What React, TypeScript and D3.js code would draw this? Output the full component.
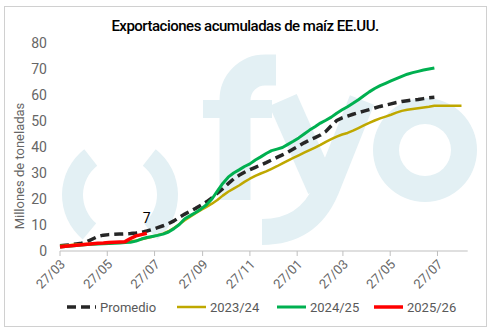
import React from "react";
import * as d3 from "d3";

// ---- data ----
const START = "2022-03-27"; // weekly series start (27/03)
const promedio = [
  2.0, 2.2, 2.4, 2.7, 3.0, 3.6, 4.6, 5.6, 6.1, 6.3,
  6.4, 6.5, 6.6, 6.7, 6.9, 7.2, 7.7, 8.3, 9.0, 9.7,
  10.5, 11.6, 13.0, 14.2, 15.3, 16.4, 17.6, 18.9, 20.4, 22.2,
  24.0, 25.9, 27.7, 29.1, 30.3, 31.3, 32.2, 33.1, 34.0, 35.0,
  36.0, 37.0, 38.0, 39.2, 40.4, 41.6, 42.7, 43.6, 44.6, 46.0,
  48.2, 50.2, 51.2, 51.9, 52.6, 53.2, 53.8, 54.4, 55.0, 55.6,
  56.1, 56.6, 57.1, 57.5, 57.8, 58.1, 58.3, 58.6, 58.9, 59.1,
];
const s2023 = [
  2.0, 2.1, 2.3, 2.5, 2.6, 2.7, 2.8, 2.9, 3.0, 3.1,
  3.2, 3.3, 3.5, 3.7, 4.0, 4.5, 5.0, 5.5, 6.1, 6.7,
  7.6, 8.8, 10.3, 11.8, 13.2, 14.5, 15.8, 17.0, 18.2, 19.6,
  21.3, 22.8, 24.0, 25.2, 26.6, 27.8, 28.9, 29.8, 30.6, 31.6,
  32.6, 33.7, 34.8, 35.8, 36.8, 37.8, 38.8, 39.8, 40.8, 42.0,
  43.0, 44.0, 44.8, 45.4, 46.3, 47.3, 48.3, 49.3, 50.2, 51.0,
  51.7, 52.4, 53.2, 53.9, 54.3, 54.6, 54.9, 55.2, 55.5, 55.9,
  55.9, 55.9, 55.9, 55.9, 55.9,
];
const s2024 = [
  1.5, 1.7, 1.9, 2.1, 2.3, 2.5, 2.6, 2.7, 2.8, 2.9,
  3.0, 3.1, 3.3, 3.4, 3.8, 4.6, 5.2, 5.6, 6.0, 6.5,
  7.3, 8.6, 10.2, 12.4, 13.6, 14.8, 16.2, 17.8, 20.0, 23.0,
  26.0, 28.4, 30.0, 31.2, 32.5, 33.5, 35.0, 36.2, 37.5, 38.6,
  39.2, 39.8, 41.0, 42.2, 43.5, 45.0, 46.5, 47.8, 49.2, 50.3,
  51.5, 53.0, 54.3, 55.5, 56.8, 58.2, 59.7, 61.2, 62.5, 63.6,
  64.5, 65.4, 66.3, 67.2, 68.0, 68.6, 69.1, 69.6, 70.0, 70.4,
];
const s2025 = [1.5, 1.8, 2.0, 2.2, 2.4, 2.6, 2.8, 3.0, 3.1, 3.3, 3.4, 3.5, 3.6, 4.8, 5.8, 6.3, 6.8];

const seriesNames = ["Promedio", "2023/24", "2024/25", "2025/26"];
const yTicks = [0, 10, 20, 30, 40, 50, 60, 70, 80];
const xTickDates = [
  "2022-03-27", "2022-05-27", "2022-07-27", "2022-09-27", "2022-11-27",
  "2023-01-27", "2023-03-27", "2023-05-27", "2023-07-27",
];
const X_END = "2023-09-04";
const title = "Exportaciones acumuladas de maíz EE.UU.";
const yTitle = "Millones de toneladas";

// ---- styles ----
const styles = [
  { color: "#262626", width: 3.5, dash: "9 5" },
  { color: "#BFA800", width: 2.5, dash: null },
  { color: "#00B050", width: 3, dash: null },
  { color: "#FF0000", width: 3.5, dash: null },
];
const legendX = [67, 177, 277, 374];
const FONT = "Roboto, 'Noto Sans', sans-serif";
const WM = "#E3F0F4";

export default function App() {
  const W = 491, H = 332;
  const parse = d3.timeParse("%Y-%m-%d");
  const start = parse(START) as Date;
  const x = d3.scaleTime().domain([start, parse(X_END) as Date]).range([60, 467.7]);
  const y = d3.scaleLinear().domain([0, 80]).range([251, 43]);
  const all = [promedio, s2023, s2024, s2025].map((vals) =>
    vals.map((v, i) => ({ d: d3.timeDay.offset(start, 7 * i), v }))
  );
  const line = d3.line<{ d: Date; v: number }>().x((p) => x(p.d)).y((p) => y(p.v));
  const fmt = d3.timeFormat("%d/%m");
  const ringArc = d3.arc<any>();
  const last = all[3][all[3].length - 1];

  return (
    <svg width={W} height={H} style={{ position: "absolute", left: 0, top: 0, background: "#fff" }} fontFamily={FONT}>
      <rect x={0} y={0} width={W} height={H} fill="#fff" />
      <rect x={4.5} y={6.5} width={482} height={320} fill="#fff" stroke="#D0D0D0" strokeWidth={1} />

      {/* watermark logo */}
      <g fill={WM} stroke="none">
        <path transform="translate(120,195)" d={ringArc({ innerRadius: 37, outerRadius: 58, startAngle: (38 * Math.PI) / 180, endAngle: (140 * Math.PI) / 180 }) as string} />
        <path transform="translate(120,195)" d={ringArc({ innerRadius: 37, outerRadius: 58, startAngle: (220 * Math.PI) / 180, endAngle: (322 * Math.PI) / 180 }) as string} />
        <path transform="translate(425,150)" d={ringArc({ innerRadius: 26, outerRadius: 52, startAngle: 0, endAngle: 2 * Math.PI }) as string} />
      </g>
      <g fill="none" stroke={WM}>
        <path d="M235,200 L235,100 A30,30 0 0 1 265,70 L276,70" strokeWidth={31} />
        <path d="M203,109 L272,109" strokeWidth={18} />
        <path d="M283,100 L322,188" strokeWidth={30} />
        <path d="M362,100 L326,190 Q308,232 262,232" strokeWidth={26} />
      </g>

      {/* title */}
      <text x={245} y={31} textAnchor="middle" fontSize={15} fontWeight={500} letterSpacing={-0.5} fill="#000">{title}</text>

      {/* y axis labels */}
      {yTicks.map((t) => (
        <text key={t} x={47} y={y(t)} dy="0.35em" textAnchor="end" fontSize={14} fill="#666">{t}</text>
      ))}
      <text transform="translate(24,166) rotate(-90)" textAnchor="middle" fontSize={13} fill="#666">{yTitle}</text>

      {/* x axis */}
      <line x1={60} x2={467.7} y1={251} y2={251} stroke="#BFBFBF" strokeWidth={1} />
      {xTickDates.map((s, i) => {
        const d = parse(s) as Date;
        const tx = x(d);
        return (
          <g key={i}>
            <line x1={tx} x2={tx} y1={251} y2={256} stroke="#BFBFBF" strokeWidth={1} />
            <text transform={`translate(${tx + 6},${265}) rotate(-45)`} textAnchor="end" fontSize={13} fill="#666">{fmt(d)}</text>
          </g>
        );
      })}

      {/* series */}
      {all.map((pts, i) => (
        <path key={i} d={line(pts) as string} fill="none" stroke={styles[i].color} strokeWidth={styles[i].width}
          strokeDasharray={styles[i].dash || undefined} strokeLinejoin="round" />
      ))}
      <text x={x(last.d)} y={y(last.v) - 10} textAnchor="middle" fontSize={14} fill="#000">{Math.round(last.v)}</text>

      {/* legend */}
      {seriesNames.map((n, i) => (
        <g key={n}>
          <line x1={legendX[i]} x2={legendX[i] + 29} y1={307} y2={307} stroke={styles[i].color} strokeWidth={styles[i].width}
            strokeDasharray={styles[i].dash || undefined} />
          <text x={legendX[i] + 33} y={307} dy="0.35em" fontSize={13} fill="#595959">{n}</text>
        </g>
      ))}
    </svg>
  );
}
